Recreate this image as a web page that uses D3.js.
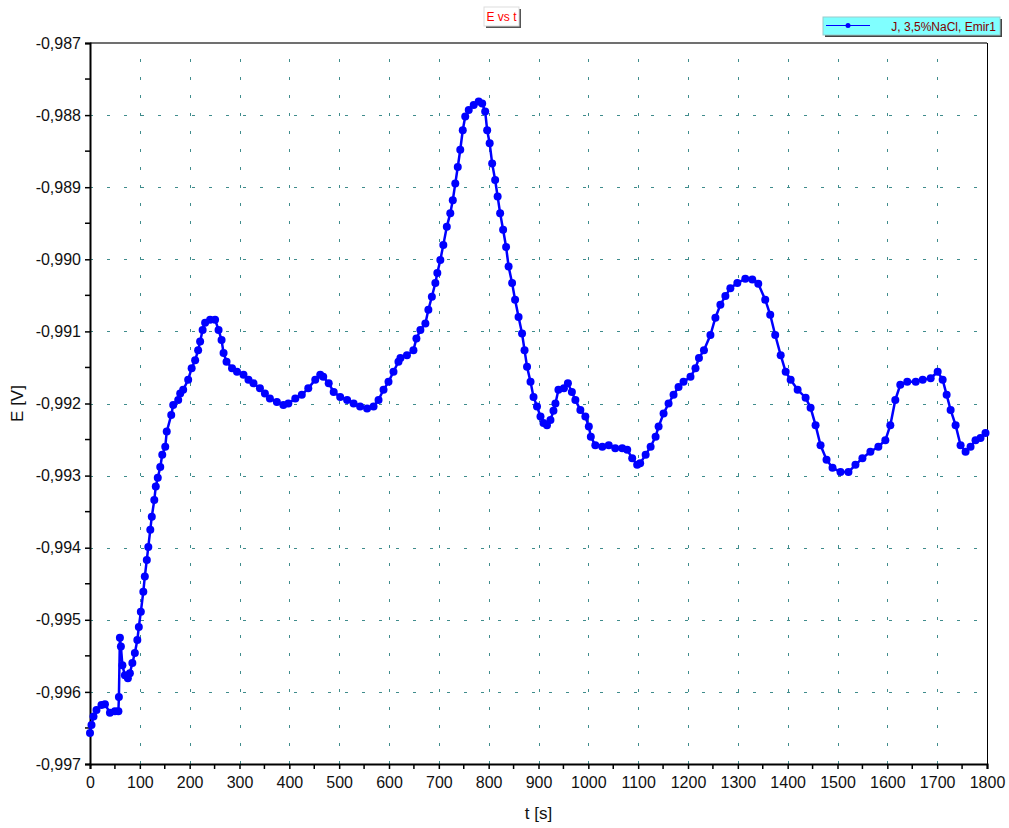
<!DOCTYPE html>
<html>
<head>
<meta charset="utf-8">
<script src="https://cdn.jsdelivr.net/npm/d3@7"></script>
<style>
  html, body { margin: 0; padding: 0; background: #fff; }
  svg { display: block; font-family: "Liberation Sans", Arial, sans-serif; }
</style>
</head>
<body>
<div id="chart"></div>
<script>
// E vs t – open-circuit potential trace

var tVals = [
    0, 3, 7, 13, 23, 30, 40, 50, 57, 58, 60, 62, 65, 70, 76, 80, 85, 90, 95, 98,
    102, 107, 110, 114, 117, 121, 124, 129, 132, 136, 141, 145, 151, 154, 163, 167, 177,
    181, 187, 197, 204, 211, 217, 221, 226, 231, 241, 251, 258, 264, 268, 274, 285, 295,
    308, 318, 328, 341, 351, 361, 375, 388, 398, 412, 425, 438, 452, 462, 468, 479, 489,
    502, 516, 529, 542, 556, 569, 579, 589, 599, 609, 619,
    623, 636, 649, 655, 663, 673, 679, 686, 693, 697, 703, 709, 716, 723, 728, 733, 738,
    743, 748, 753, 760, 770, 780, 787, 793, 797, 802, 807, 813, 818, 823, 829, 835, 840,
    847, 853, 860, 867, 872, 877, 884, 890, 897, 904, 910, 917, 924, 930, 934, 940, 951,
    959, 967, 974, 984, 994, 1001, 1005, 1014, 1028, 1041, 1054, 1068, 1078, 1088, 1098,
    1104, 1115, 1125, 1135, 1141, 1151, 1161, 1171, 1181, 1191, 1205, 1215, 1222, 1232,
    1245, 1255, 1265, 1275, 1285, 1299, 1315, 1329, 1341, 1355, 1365, 1375, 1386, 1396,
    1406, 1420, 1436, 1446, 1456, 1466, 1478, 1490, 1506, 1522, 1536, 1550, 1566, 1582,
    1596, 1606, 1616, 1626, 1640, 1657, 1671, 1687, 1701, 1711, 1719, 1727, 1737, 1747,
    1757, 1767, 1777, 1787, 1797
];

var eVals = [
    -0.99657, -0.99646, -0.99634, -0.99625, -0.99618, -0.99617, -0.99629, -0.99627, -0.99627, -0.99607,
    -0.99525, -0.99537, -0.99563, -0.99577, -0.99581, -0.99574, -0.99560, -0.99546, -0.99528, -0.99510,
    -0.99489, -0.99461, -0.99440, -0.99417, -0.99399, -0.99375, -0.99357, -0.99334, -0.99315, -0.99303,
    -0.99288, -0.99271, -0.99260, -0.99239, -0.99216, -0.99202, -0.99195,
    -0.99186, -0.99181, -0.99167, -0.99151, -0.99140, -0.99126, -0.99114, -0.99098, -0.99088, -0.99084,
    -0.99084, -0.99098, -0.99112, -0.99130, -0.99142, -0.99151, -0.99156, -0.99160, -0.99167, -0.99172,
    -0.99179, -0.99186, -0.99193, -0.99198, -0.99202, -0.99200, -0.99193, -0.99188, -0.99179, -0.99167,
    -0.99160, -0.99163, -0.99172, -0.99184, -0.99191, -0.99195, -0.99200, -0.99204, -0.99207, -0.99204,
    -0.99195, -0.99181, -0.99170, -0.99156, -0.99142,
    -0.99137, -0.99133, -0.99126, -0.99110, -0.99098, -0.99089, -0.99070, -0.99052, -0.99033, -0.99019,
    -0.99001, -0.98980, -0.98955, -0.98936, -0.98918, -0.98895, -0.98872, -0.98848, -0.98821, -0.98802,
    -0.98793, -0.98786, -0.98781, -0.98784, -0.98795, -0.98821, -0.98839, -0.98867, -0.98890, -0.98913,
    -0.98936, -0.98959, -0.98983, -0.99010, -0.99033, -0.99056, -0.99080, -0.99103, -0.99126, -0.99149,
    -0.99170, -0.99191, -0.99204, -0.99218, -0.99227, -0.99230, -0.99223, -0.99210, -0.99200, -0.99181,
    -0.99179, -0.99172, -0.99184, -0.99195, -0.99209, -0.99218, -0.99232, -0.99246, -0.99258, -0.99260,
    -0.99258, -0.99262, -0.99262, -0.99264, -0.99276, -0.99285, -0.99283, -0.99271, -0.99260, -0.99246,
    -0.99232, -0.99214, -0.99200, -0.99188, -0.99177, -0.99170, -0.99163, -0.99151, -0.99137, -0.99126,
    -0.99105, -0.99081, -0.99063, -0.99051, -0.99040, -0.99033, -0.99027, -0.99028, -0.99034, -0.99056,
    -0.99077, -0.99105, -0.99133, -0.99156, -0.99167, -0.99181, -0.99192, -0.99206, -0.99230, -0.99258,
    -0.99278, -0.99289, -0.99295, -0.99295, -0.99285, -0.99276, -0.99267, -0.99260, -0.99251, -0.99230,
    -0.99195, -0.99174, -0.99170, -0.99170, -0.99167, -0.99165, -0.99156, -0.99167, -0.99188, -0.99209,
    -0.99230, -0.99258, -0.99267, -0.99260, -0.99251, -0.99248, -0.99241
];

var xTicks = [0, 100, 200, 300, 400, 500, 600, 700, 800, 900, 1000, 1100, 1200, 1300, 1400, 1500, 1600, 1700, 1800];
var yTicks = [-0.997, -0.996, -0.995, -0.994, -0.993, -0.992, -0.991, -0.990, -0.989, -0.988, -0.987];

var chartTitle = "E vs t";
var seriesName = "J, 3,5%NaCl, Emir1";
var xTitle = "t [s]";
var yTitle = "E [V]";

(function () {
    "use strict";

    var W = 1009, H = 828;
    var plot = { left: 90, right: 987, top: 43, bottom: 764 };

    var C = {
        line: "#0000ff",
        grid: "#3f8c8c",
        axis: "#000000",
        frame: "#707070",
        title: "#ff0000",
        legendBg: "#80ffff",
        legendText: "#800000"
    };

    var svg = d3.select("#chart").append("svg")
        .attr("width", W)
        .attr("height", H);

    var x = d3.scaleLinear().domain([0, 1800]).range([plot.left, plot.right]);
    var y = d3.scaleLinear().domain([-0.997, -0.987]).range([plot.bottom, plot.top]);

    var fmtY = function (v) { return d3.format(".3f")(v).replace("−", "-").replace(".", ","); };

    // ── grid (short dashes, teal) ────────────────────────────────────────────
    var grid = svg.append("g").attr("stroke", C.grid).attr("stroke-width", 1);

    xTicks.slice(1, -1).forEach(function (t) {
        grid.append("line")
            .attr("x1", Math.round(x(t)) + 0.5).attr("x2", Math.round(x(t)) + 0.5)
            .attr("y1", plot.bottom).attr("y2", plot.top)
            .attr("stroke-dasharray", "3 15");
    });
    yTicks.slice(1, -1).forEach(function (v) {
        grid.append("line")
            .attr("x1", plot.left).attr("x2", plot.right)
            .attr("y1", Math.round(y(v)) + 0.5).attr("y2", Math.round(y(v)) + 0.5)
            .attr("stroke-dasharray", "3 14");
    });

    // ── frame: top grey, right black ─────────────────────────────────────────
    svg.append("line")
        .attr("x1", plot.left).attr("x2", plot.right)
        .attr("y1", plot.top).attr("y2", plot.top)
        .attr("stroke", C.frame).attr("stroke-width", 2);
    svg.append("line")
        .attr("x1", plot.right + 0.5).attr("x2", plot.right + 0.5)
        .attr("y1", plot.top).attr("y2", plot.bottom)
        .attr("stroke", C.axis).attr("stroke-width", 1);

    // ── axes ─────────────────────────────────────────────────────────────────
    var xMinor = d3.range(50, 1800, 100);
    var yMinor = d3.range(-0.9965, -0.987, 0.001);

    var xAxis = d3.axisBottom(x).tickValues(xTicks).tickSize(5).tickPadding(8)
        .tickFormat(d3.format("d"));
    var yAxis = d3.axisLeft(y).tickValues(yTicks).tickSize(5).tickPadding(4)
        .tickFormat(fmtY);

    var gx = svg.append("g")
        .attr("transform", "translate(0," + plot.bottom + ")")
        .call(xAxis);
    gx.selectAll(".tick line").attr("stroke", C.axis).attr("stroke-width", 1.5);
    gx.select(".domain").attr("stroke", C.axis).attr("stroke-width", 2);
    gx.selectAll("text").attr("font-size", "16px").attr("fill", "#111")
        .attr("font-family", "Liberation Sans, Arial, sans-serif");
    xMinor.forEach(function (t) {
        gx.append("line")
            .attr("x1", x(t)).attr("x2", x(t))
            .attr("y1", 0).attr("y2", 5)
            .attr("stroke", C.axis).attr("stroke-width", 1.5);
    });

    var gy = svg.append("g")
        .attr("transform", "translate(" + plot.left + ",0)")
        .call(yAxis);
    gy.selectAll(".tick line").attr("stroke", C.axis).attr("stroke-width", 1.5);
    gy.select(".domain").attr("stroke", C.axis).attr("stroke-width", 2);
    gy.selectAll("text").attr("font-size", "16px").attr("fill", "#111")
        .attr("font-family", "Liberation Sans, Arial, sans-serif");
    yMinor.forEach(function (v) {
        gy.append("line")
            .attr("x1", -5).attr("x2", 0)
            .attr("y1", y(v)).attr("y2", y(v))
            .attr("stroke", C.axis).attr("stroke-width", 1.5);
    });

    // ── axis titles ──────────────────────────────────────────────────────────
    svg.append("text")
        .attr("x", (plot.left + plot.right) / 2)
        .attr("y", 819)
        .attr("text-anchor", "middle")
        .attr("font-size", "17px")
        .attr("fill", "#111")
        .text(xTitle);

    svg.append("text")
        .attr("transform", "translate(23," + ((plot.top + plot.bottom) / 2) + ") rotate(-90)")
        .attr("text-anchor", "middle")
        .attr("font-size", "17px")
        .attr("fill", "#111")
        .text(yTitle);

    // ── series: line + dot markers ───────────────────────────────────────────
    var pts = tVals.map(function (t, i) { return [t, eVals[i]]; });

    var line = d3.line()
        .x(function (d) { return x(d[0]); })
        .y(function (d) { return y(d[1]); });

    svg.append("path")
        .datum(pts)
        .attr("d", line)
        .attr("fill", "none")
        .attr("stroke", C.line)
        .attr("stroke-width", 2.5);

    svg.append("g").selectAll("circle")
        .data(pts)
        .enter().append("circle")
        .attr("cx", function (d) { return x(d[0]); })
        .attr("cy", function (d) { return y(d[1]); })
        .attr("r", 4)
        .attr("fill", C.line);

    // ── title box ────────────────────────────────────────────────────────────
    var tb = { x: 484, y: 7, w: 35, h: 19 };
    svg.append("rect")
        .attr("x", tb.x + 2).attr("y", tb.y + 2).attr("width", tb.w).attr("height", tb.h)
        .attr("fill", "#555");
    svg.append("rect")
        .attr("x", tb.x).attr("y", tb.y).attr("width", tb.w).attr("height", tb.h)
        .attr("fill", "#fff").attr("stroke", "#ddd").attr("stroke-width", 1);
    svg.append("text")
        .attr("x", tb.x + tb.w / 2).attr("y", tb.y + 14)
        .attr("text-anchor", "middle")
        .attr("font-size", "12px")
        .attr("fill", C.title)
        .text(chartTitle);

    // ── legend ───────────────────────────────────────────────────────────────
    var lg = { x: 823, y: 17, w: 177, h: 18 };
    svg.append("rect")
        .attr("x", lg.x + 2).attr("y", lg.y + 2).attr("width", lg.w).attr("height", lg.h)
        .attr("fill", "#444");
    svg.append("rect")
        .attr("x", lg.x).attr("y", lg.y).attr("width", lg.w).attr("height", lg.h)
        .attr("fill", C.legendBg).attr("stroke", "#9cc").attr("stroke-width", 1);
    svg.append("line")
        .attr("x1", lg.x + 3).attr("x2", lg.x + 47)
        .attr("y1", lg.y + 8.5).attr("y2", lg.y + 8.5)
        .attr("stroke", C.line).attr("stroke-width", 1);
    svg.append("circle")
        .attr("cx", lg.x + 25).attr("cy", lg.y + 8.5).attr("r", 2.5)
        .attr("fill", C.line);
    svg.append("text")
        .attr("x", lg.x + lg.w - 4).attr("y", lg.y + 14)
        .attr("text-anchor", "end")
        .attr("font-size", "12px")
        .attr("fill", C.legendText)
        .text(seriesName);
})();
</script>
</body>
</html>
